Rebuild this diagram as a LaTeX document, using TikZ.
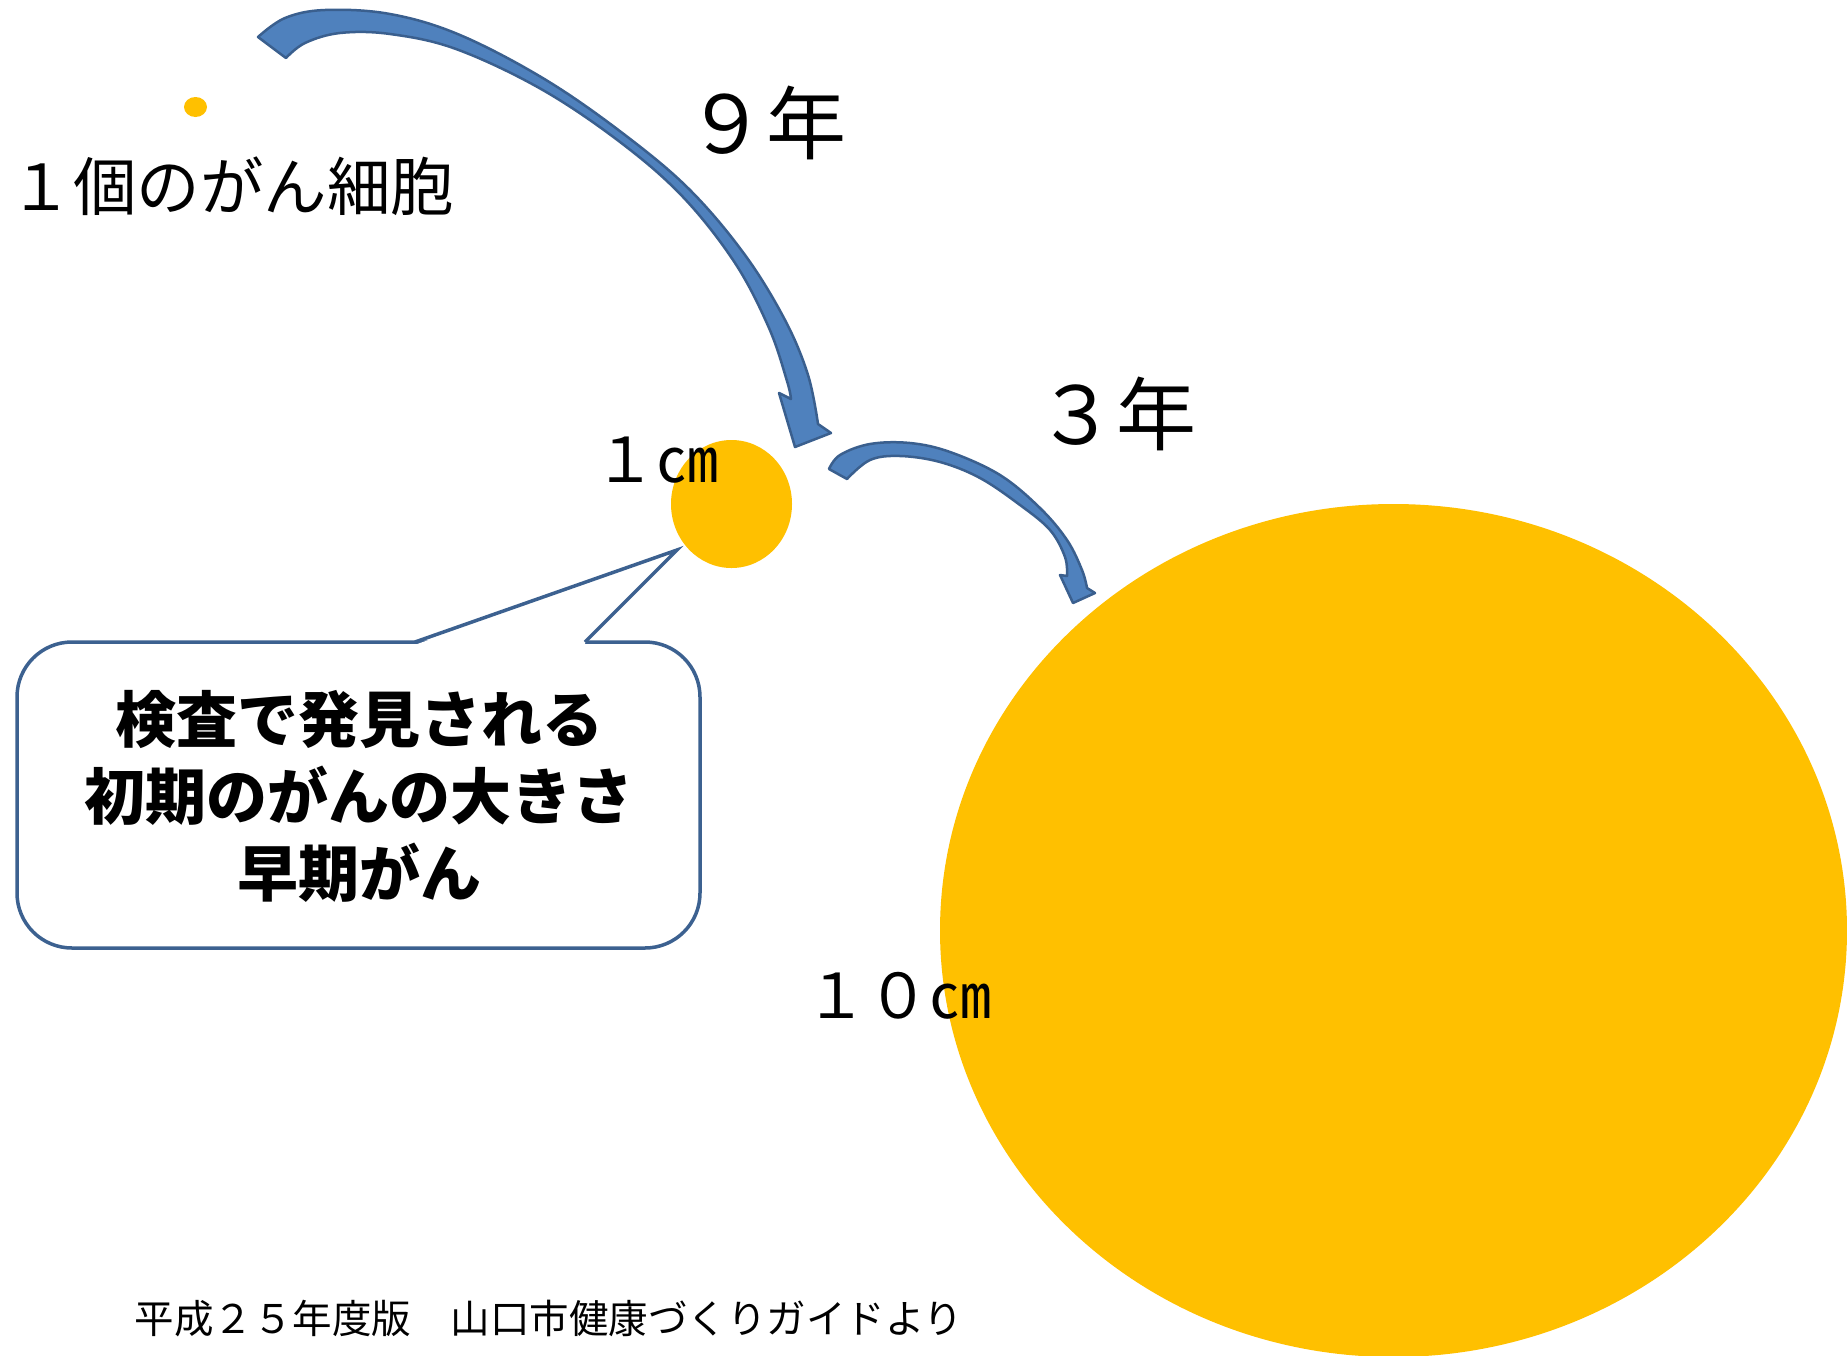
\documentclass[tikz,border=0pt]{standalone}
\usepackage{fontspec}
\newfontfamily\jp{Noto Sans CJK JP}
\usetikzlibrary{shapes.geometric}
\definecolor{tumor}{HTML}{FFC000}
\definecolor{arrowfill}{HTML}{4F81BD}
\definecolor{arrowline}{HTML}{3A5F8E}
\definecolor{calloutline}{HTML}{3C6190}
\begin{document}
\begin{tikzpicture}[x=1pt,y=-1pt,
  tumorshape/.style={ellipse, fill=tumor, inner sep=0, draw=none},
  txt/.style={font=\jp\fontsize{62}{70}\selectfont, inner sep=0},
  bigtxt/.style={font=\jp\fontsize{80}{90}\selectfont, inner sep=0},
  foot/.style={font=\jp\fontsize{39.5}{45}\selectfont, inner sep=0},
  callouttxt/.style={font=\jp\bfseries\fontsize{61}{77}\selectfont, inner sep=0, align=center},
  blockarrow/.style={fill=arrowfill, draw=arrowline, line width=2.5pt, line join=round},
  calloutline/.style={draw=calloutline, line width=3.5pt}]
\useasboundingbox (0,0) rectangle (1847,1355);
\clip (0,0) rectangle (1847,1355);
\fill[white] (0,0) rectangle (1847,1355);

% tumours
\node[tumorshape, minimum width=23pt, minimum height=20pt] (cell) at (195.5,107) {};
\node[tumorshape, minimum width=121pt, minimum height=128pt] (small) at (731.5,504) {};
\node[tumorshape, minimum width=907pt, minimum height=853pt] (large) at (1393.5,930.5) {};

% arrow 1 (9 years)
\filldraw[blockarrow] (258,37) -- plot[smooth, tension=0.6] coordinates {(258,37) (285,18) (325,10) (390,14) (460,35) (546,80) (625,135) (690,190) (745,255) (785,320) (808,375) (818,424)}
  -- (831,433) -- (795,447) -- (779,393)
  -- plot[smooth, tension=0.6] coordinates {(791,399) (787,381) (769,328) (735,263) (683,197) (620,142) (541,89) (456,49) (390,34) (340,33) (305,43) (286,58)} -- cycle;

% arrow 2 (3 years)
\filldraw[blockarrow] (829,469) -- plot[smooth, tension=0.6] coordinates {(829,469) (840,455) (870,444) (910,443) (950,452) (1000,475) (1040,508) (1067,540) (1082,570) (1087,588)}
  -- (1095,593) -- (1073,603) -- (1060,575)
  -- plot[smooth, tension=0.6] coordinates {(1067,576) (1065,557) (1050,530) (1020,505) (980,478) (940,462) (900,456) (870,460) (847,479)} -- cycle;

% callout
\coordinate (tip) at (677,550);
\coordinate (baseL) at (415,642);
\coordinate (baseR) at (585,642);
\filldraw[calloutline, fill=white, rounded corners=55pt] (17,642) rectangle (700,948);
\fill[white] (416,644.5) -- (tip) -- (584,644.5) -- cycle;
\draw[calloutline, line join=miter] (baseL) -- (tip) -- (baseR);
\node[callouttxt] (calloutText) at (359,796) {検査で発見される\\初期のがんの大きさ\\早期がん};

% labels
\node[txt, font=\jp\fontsize{63.5}{70}\selectfont] (cellLabel) at (232,186) {１個のがん細胞};
\node[bigtxt] (nine) at (766,123) {９年};
\node[bigtxt] (three) at (1116,414) {３年};
\node[txt] (oneCm) at (656,460) {１㎝};
\node[txt] (tenCm) at (898,996) {１０㎝};
\node[foot] (source) at (549,1319) {平成２５年度版　山口市健康づくりガイドより};
\end{tikzpicture}
\end{document}
